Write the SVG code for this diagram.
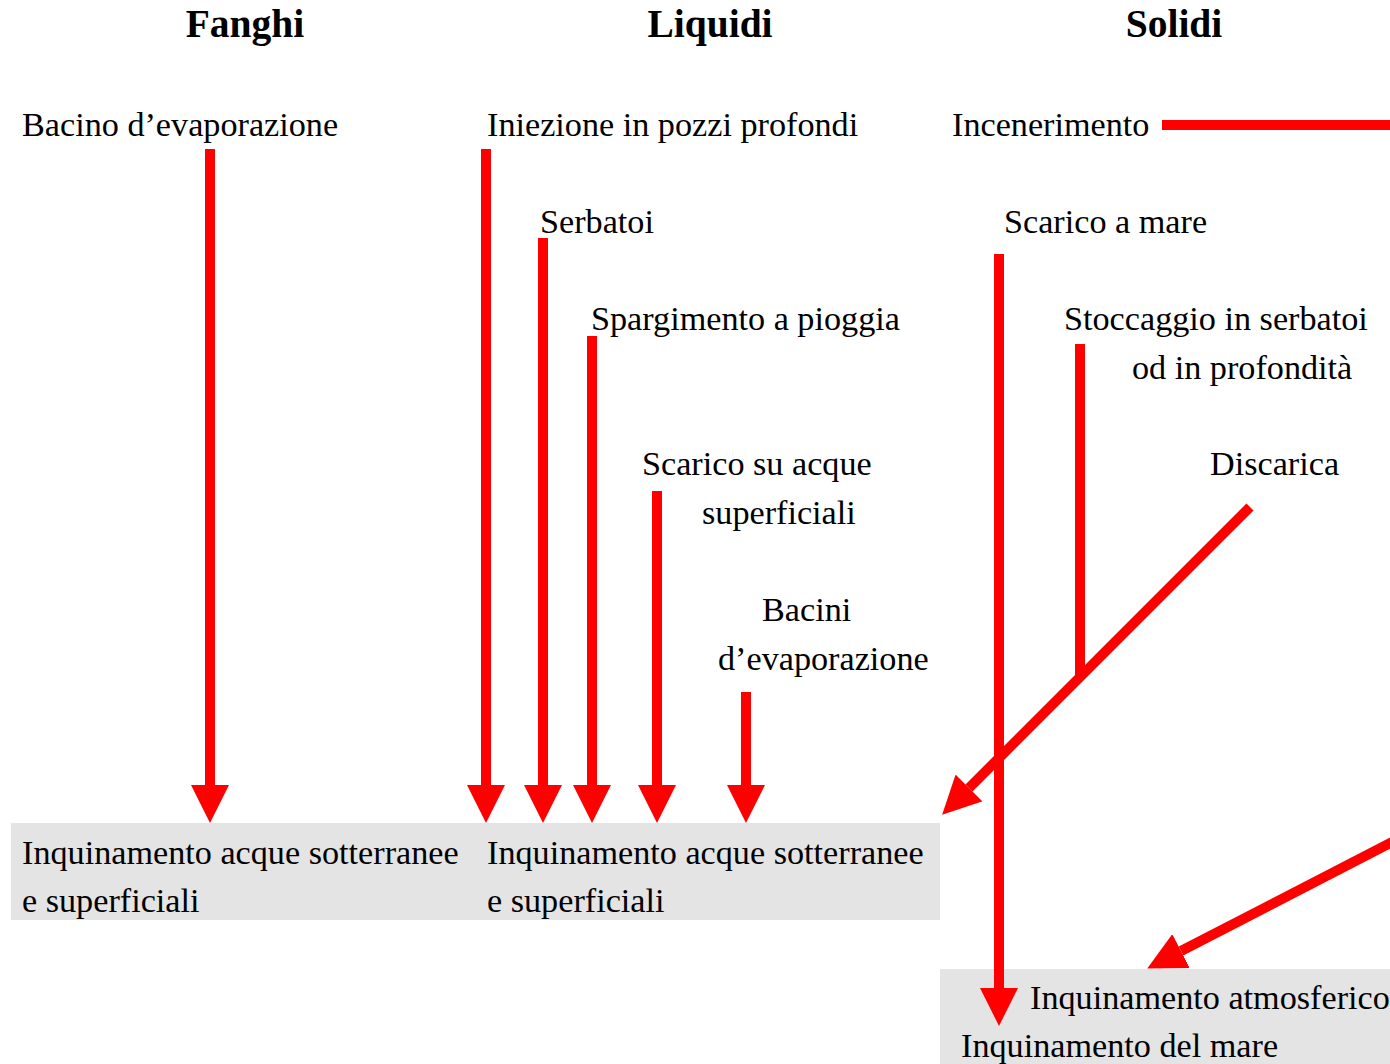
<svg xmlns="http://www.w3.org/2000/svg" width="1390" height="1064" viewBox="0 0 1390 1064">
<style>
text{font-family:"Liberation Serif","Times New Roman",serif;font-size:34.2px;fill:#000}
.h{font-weight:bold;font-size:39.5px;text-anchor:middle}
.box{fill:#e4e4e4}
.c{stroke:#ff0000;stroke-width:10;fill:none}
</style>
<defs>
<marker id="ah" viewBox="0 -19 38 38" refX="0" refY="0" markerWidth="38" markerHeight="38" markerUnits="userSpaceOnUse" orient="auto">
<path d="M0,-19 L38,0 L0,19 Z" fill="#ff0000"/>
</marker>
</defs>
<g id="titles">
<text class="h" x="245" y="37">Fanghi</text>
<text class="h" x="710" y="37">Liquidi</text>
<text class="h" x="1174" y="37">Solidi</text>
</g>
<g id="n-bacino"><text x="22" y="136">Bacino d’evaporazione</text></g>
<g id="n-iniezione"><text x="487" y="136">Iniezione in pozzi profondi</text></g>
<g id="n-incenerimento"><text x="952" y="136">Incenerimento</text></g>
<g id="n-serbatoi"><text x="540" y="233">Serbatoi</text></g>
<g id="n-scaricomare"><text x="1004" y="233">Scarico a mare</text></g>
<g id="n-spargimento"><text x="591" y="330">Spargimento a pioggia</text></g>
<g id="n-stoccaggio"><text x="1064" y="330">Stoccaggio in serbatoi</text><text x="1132" y="379">od in profondità</text></g>
<g id="n-scaricoacque"><text x="642" y="475">Scarico su acque</text><text x="702" y="524">superficiali</text></g>
<g id="n-discarica"><text x="1210" y="475">Discarica</text></g>
<g id="n-bacini"><text x="762" y="621">Bacini</text><text x="718" y="670">d’evaporazione</text></g>
<g id="n-inq1"><rect class="box" x="11" y="823" width="468" height="97"/><text x="22" y="864">Inquinamento acque sotterranee</text><text x="22" y="912">e superficiali</text></g>
<g id="n-inq2"><rect class="box" x="479" y="823" width="461" height="97"/><text x="487" y="864">Inquinamento acque sotterranee</text><text x="487" y="912">e superficiali</text></g>
<g id="n-inq3"><rect class="box" x="940" y="969" width="450" height="95"/><text x="1030" y="1009">Inquinamento atmosferico</text><text x="961" y="1057">Inquinamento del mare</text></g>
<g id="connectors">
<line class="c" x1="210" y1="149" x2="210" y2="785" marker-end="url(#ah)"/>
<line class="c" x1="486" y1="149" x2="486" y2="785" marker-end="url(#ah)"/>
<line class="c" x1="543" y1="238" x2="543" y2="785" marker-end="url(#ah)"/>
<line class="c" x1="592" y1="336" x2="592" y2="785" marker-end="url(#ah)"/>
<line class="c" x1="657" y1="491" x2="657" y2="785" marker-end="url(#ah)"/>
<line class="c" x1="746" y1="692" x2="746" y2="785" marker-end="url(#ah)"/>
<line class="c" x1="1250" y1="507" x2="969" y2="788" marker-end="url(#ah)"/>
<line class="c" x1="1080" y1="344" x2="1080" y2="678"/>
<line class="c" x1="999" y1="254" x2="999" y2="988" marker-end="url(#ah)"/>
<polyline class="c" points="1162,125 1390,125"/>
<line class="c" x1="1400" y1="838" x2="1181" y2="951" marker-end="url(#ah)"/>
</g>
</svg>
